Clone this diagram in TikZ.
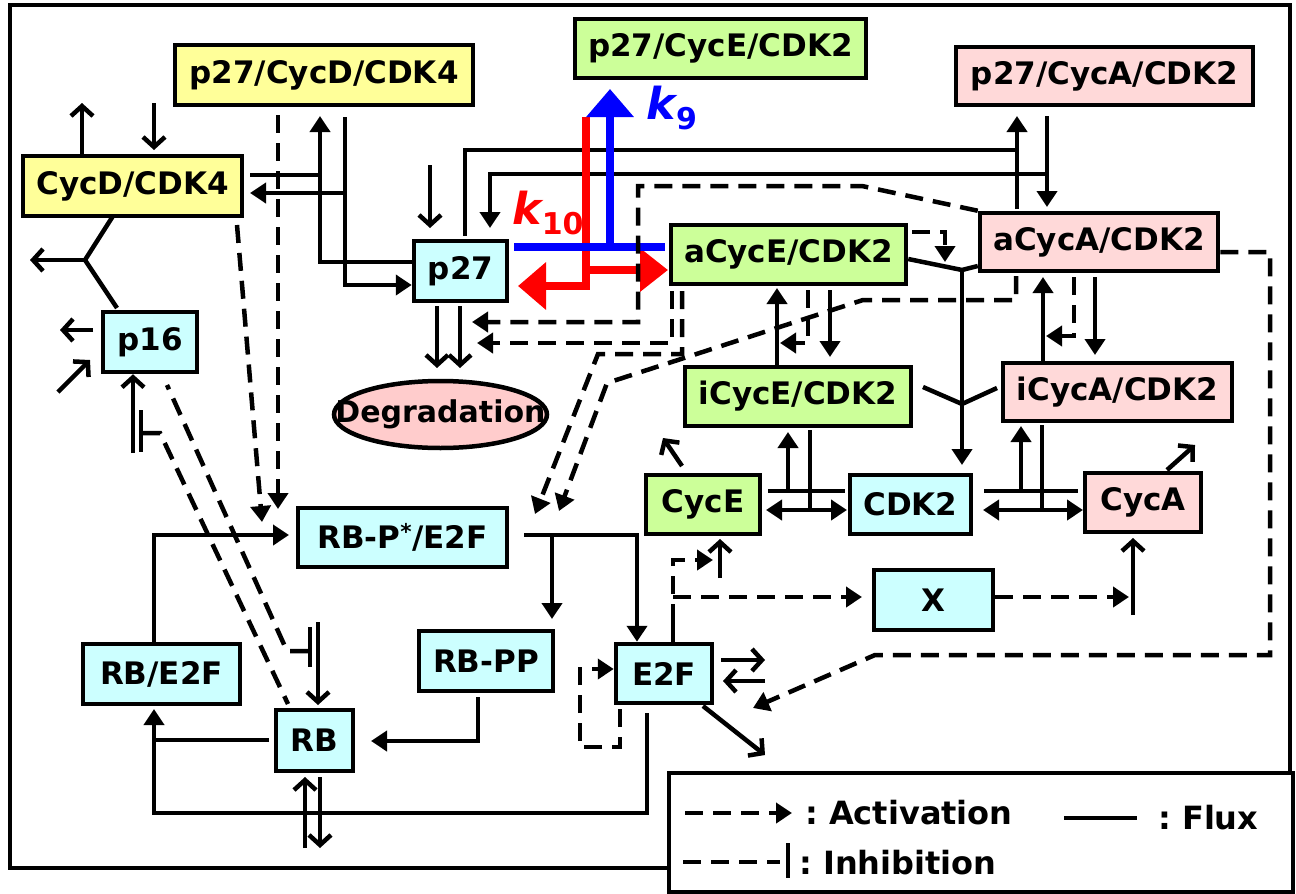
\documentclass[tikz,border=0pt]{standalone}
\usepackage{fontspec}
\setmainfont{DejaVu Sans}
\usetikzlibrary{arrows.meta,shapes.geometric}
\pgfdeclarelayer{bg}
\pgfsetlayers{bg,main}
\definecolor{cyel}{HTML}{FFFF99}
\definecolor{cgrn}{HTML}{CCFF99}
\definecolor{cpnk}{HTML}{FFD9D9}
\definecolor{ccyn}{HTML}{CCFFFF}
\definecolor{cdeg}{HTML}{FFCCCC}
\begin{document}
\begin{tikzpicture}[x=1pt,y=-1pt,
  box/.style={draw,line width=4.5pt,inner sep=0pt,font=\bfseries\fontsize{31}{33}\selectfont},
  lab/.style={inner sep=0pt,font=\bfseries\fontsize{31}{33}\selectfont},
  leg/.style={inner sep=0pt,font=\bfseries\fontsize{32}{34}\selectfont},
  flux/.style={line width=4.5pt},
  act/.style={line width=4.5pt,dash pattern=on 18pt off 10pt},
  tri/.style={-{Triangle[length=16pt,width=20pt]}},
  tritri/.style={{Triangle[length=16pt,width=20pt]}-{Triangle[length=16pt,width=20pt]}},
  barb/.style={-{Straight Barb[length=10pt,width=22pt]}},
  bigtri/.style={-{Triangle[length=28pt,width=46pt]}}
]
\useasboundingbox (0,0) rectangle (1296,894);

% nodes
\node[box,fill=cyel,minimum width=298pt,minimum height=60pt] (pCD) at (324,75) {p27/CycD/CDK4};
\node[box,fill=cgrn,minimum width=291pt,minimum height=59pt] (pCE) at (720.5,48.5) {p27/CycE/CDK2};
\node[box,fill=cpnk,minimum width=297pt,minimum height=58pt] (pCA) at (1104.5,76) {p27/CycA/CDK2};
\node[box,fill=cyel,minimum width=219pt,minimum height=60pt] (CD) at (132.5,186) {CycD/CDK4};
\node[box,fill=ccyn,minimum width=93pt,minimum height=60pt] (p27) at (460.5,271) {p27};
\node[box,fill=cgrn,minimum width=235pt,minimum height=59pt] (aCE) at (788.5,254.5) {aCycE/CDK2};
\node[box,fill=cpnk,minimum width=238pt,minimum height=58pt] (aCA) at (1099,242) {aCycA/CDK2};
\node[box,fill=cgrn,minimum width=226pt,minimum height=59pt] (iCE) at (798,396.5) {iCycE/CDK2};
\node[box,fill=cpnk,minimum width=229pt,minimum height=58pt] (iCA) at (1117.5,392) {iCycA/CDK2};
\node[box,fill=ccyn,minimum width=94pt,minimum height=60pt] (p16) at (150,342) {p16};
\draw[line width=4.5pt,fill=cdeg] (440.5,414.5) ellipse [x radius=106.5pt, y radius=33.5pt];
\node[inner sep=0pt,font=\bfseries\fontsize{30}{32}\selectfont] (deg) at (440.5,414.5) {Degradation};
\node[box,fill=ccyn,minimum width=209pt,minimum height=59pt] (RBP) at (402.5,537.5) {RB-P\textsuperscript{*}/E2F};
\node[box,fill=cgrn,minimum width=114pt,minimum height=59pt] (CycE) at (703,504.5) {CycE};
\node[box,fill=ccyn,minimum width=121pt,minimum height=59pt] (CDK2) at (910.5,504.5) {CDK2};
\node[box,fill=cpnk,minimum width=116pt,minimum height=59pt] (CycA) at (1143,502.5) {CycA};
\node[box,fill=ccyn,minimum width=119pt,minimum height=60pt] (X) at (933.5,600) {X};
\node[box,fill=ccyn,minimum width=157pt,minimum height=60pt] (RBE) at (161.5,674) {RB/E2F};
\node[box,fill=ccyn,minimum width=77pt,minimum height=61pt] (RB) at (314.5,740.5) {RB};
\node[box,fill=ccyn,minimum width=134pt,minimum height=60pt] (RBPP) at (486,661) {RB-PP};
\node[box,fill=ccyn,minimum width=96pt,minimum height=59pt] (E2F) at (664,673.5) {E2F};

\node[blue,inner sep=0pt,font=\bfseries\itshape\fontsize{44}{44}\selectfont] (k9) at (672,108) {k\raisebox{-10pt}{\fontsize{30}{30}\selectfont\upshape 9}};
\node[red,inner sep=0pt,font=\bfseries\itshape\fontsize{44}{44}\selectfont] (k10) at (548,213) {k\raisebox{-10pt}{\fontsize{30}{30}\selectfont\upshape 10}};

\begin{pgfonlayer}{bg}
\draw[line width=4.5pt] (10,5) rectangle (1290,868);

% CycD/CDK4 synthesis / degradation
\draw[flux,barb] (CD.north -| 82,0) -- (82,103);
\draw[flux,barb] (154,103) -- (154,150);

% p27 + CycD/CDK4 <-> p27/CycD/CDK4
\coordinate (jD) at (320,175);
\draw[flux] (250,175) -- (jD);
\draw[flux,tri] (p27.west |- 0,262) -- (320,262) -- (320,116);
\draw[flux,tri] (345,117) -- (345,285) -- (p27.west |- 0,285);
\draw[flux,tri] (345,193) -- (250,193);

% activations of RB-P*/E2F by CycD complexes
\draw[act,tri] (278,115) -- (278,509);
\draw[act,tri] (237,225) -- (262,522);

% CycD/CDK4 + p16
\coordinate (jP) at (85,260);
\draw[flux] (113,216) -- (jP) -- (117,308);
\draw[flux,barb] (jP) -- (30,260);

% p16 synthesis / degradation and RB cross inhibitions
\draw[flux,barb] (93,330) -- (60,330);
\draw[flux,barb] (58,392) -- (90,360);
\draw[flux,barb] (133,453) -- (p16.south -| 133,0);
\draw[flux] (141,410) -- (141,452);
\draw[act] (143,433) -- (160,433) -- (288,704);
\draw[act] (308,651) -- (287,651) -- (167,385);
\draw[flux] (310,627) -- (310,667);
\draw[flux,barb] (318,622) -- (318,705);

% p27 synthesis, complexes with CycA, degradation
\draw[flux,barb] (430,165) -- (430,228);
\draw[flux] (465,236) -- (465,150) -- (1017,150);
\draw[flux,tri] (1017,209) -- (1017,116);
\draw[flux,tri] (1047,116) -- (1047,207);
\draw[flux,tri] (1047,174) -- (490,174) -- (490,228);
\draw[flux,barb] (437,306) -- (437,368);
\draw[flux,barb] (460,306) -- (460,368);

% k10 and k9
\draw[red,line width=8pt,bigtri] (586,117) -- (586,286) -- (518,286);
\draw[red,line width=8pt,-{Triangle[length=28pt,width=42pt]}] (586,270) -- (668,270);
\draw[blue,line width=8pt] (514,247) -- (665,247);
\draw[blue,line width=8pt,bigtri] (610,247) -- (610,89);

% dashed activations of p27 degradation and RB-P*/E2F
\draw[act,tri] (aCA.north west) -- (862,186) -- (638,186) -- (638,322) -- (472,322);
\draw[act,tri] (672,291) -- (672,343) -- (477,343);
\draw[act,tri] (682,291) -- (682,354) -- (598,354) -- (535,514);
\draw[act,tri] (1016,276) -- (1016,300) -- (863,300) -- (607,383) -- (559,511);

% active / inactive complexes -> CDK2
\draw[act,tri] (912,232) -- (945,232) -- (945,262);
\coordinate (jA) at (962,270);
\coordinate (jI) at (962,404);
\draw[flux] (aCE.east |- 0,259) -- (jA) -- (aCA.west |- 0,266);
\draw[flux,tri] (jA) -- (962,465);
\draw[flux] (923,387) -- (jI) -- (997,388);

% a <-> i conversions
\draw[flux,tri] (777,365) -- (777,288);
\draw[flux,tri] (830,290) -- (830,357);
\draw[act,tri] (808,290) -- (808,343) -- (780,343);
\draw[flux,tri] (1043,361) -- (1043,277);
\draw[flux,tri] (1095,277) -- (1095,355);
\draw[act,tri] (1074,277) -- (1074,336) -- (1046,336);

% Cyc + CDK2 <-> iCyc/CDK2
\draw[flux] (768,491) -- (845,491);
\draw[flux,tri] (788,491) -- (788,432);
\draw[flux] (810,430) -- (810,510);
\draw[flux,tritri] (766,510) -- (847,510);
\draw[flux] (984,491) -- (1078,491);
\draw[flux,tri] (1021,491) -- (1021,426);
\draw[flux] (1042,425) -- (1042,510);
\draw[flux,tritri] (983,510) -- (1083,510);

% CycE, CycA synthesis / degradation
\draw[flux,barb] (682,466) -- (663,438);
\draw[flux,barb] (1167,470) -- (1195,445);
\draw[flux,barb] (720,578) -- (720,539);
\draw[flux,barb] (1133,615) -- (1133,538);
\draw[flux] (E2F.north -| 673,0) -- (673,622);
\draw[act,tri] (673,622) -- (673,560) -- (713,560);
\draw[act,tri] (673,597) -- (862,597);
\draw[act,tri] (X.east |- 0,597) -- (1129,597);

% aCycA/CDK2 -> E2F
\draw[act,tri] (aCA.east |- 0,252) -- (1270,252) -- (1270,655) -- (875,655) -- (753,708);

% E2F
\draw[flux,barb] (721,660) -- (765,660);
\draw[flux,barb] (765,681) -- (723,681);
\draw[flux,barb] (703,706) -- (765,755);
\draw[act,tri] (620,709) -- (620,747) -- (580,747) -- (580,669) -- (E2F.west |- 0,669);
\draw[flux,tri] (647,713) -- (647,813) -- (154,813) -- (154,709);
\draw[flux] (269,740) -- (154,740);
\draw[flux,tri] (RBE.north -| 154,0) -- (154,535) -- (289,535);
\draw[flux,tri] (524,535) -- (637,535) -- (E2F.north -| 637,0);
\draw[flux,tri] (552,535) -- (552,619);
\draw[flux,tri] (478,697) -- (478,741) -- (371,741);
\draw[flux,barb] (305,848) -- (305,777);
\draw[flux,barb] (320,777) -- (320,848);
\end{pgfonlayer}

% legend
\draw[line width=3.5pt,fill=white] (669,773) rectangle (1293,892);
\coordinate (la0) at (685,813);
\coordinate (la1) at (792,813);
\draw[act,tri] (la0) -- (la1);
\node[leg,anchor=west] (lA) at (805,813) {:\ Activation};
\coordinate (lf0) at (1064,818);
\coordinate (lf1) at (1137,818);
\draw[flux] (lf0) -- (lf1);
\node[leg,anchor=west] (lF) at (1158,818) {:\ Flux};
\coordinate (li0) at (683,862);
\coordinate (li1) at (780,862);
\draw[act] (li0) -- (li1);
\draw[flux] (788,843) -- (788,878);
\node[leg,anchor=west] (lI) at (799,863) {:\ Inhibition};
\end{tikzpicture}
\end{document}
